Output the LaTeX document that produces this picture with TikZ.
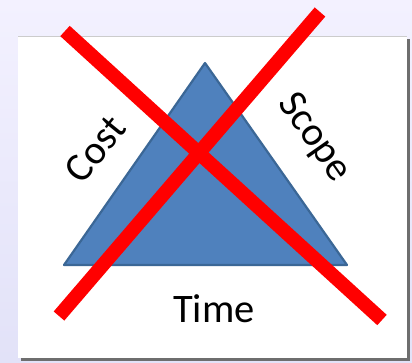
\documentclass[tikz,border=0pt]{standalone}
\usepackage{fontspec}
\setmainfont{Carlito}
\definecolor{bgtop}{HTML}{F3F1FF}
\definecolor{bgbot}{HTML}{E2E2F8}
\definecolor{triblue}{HTML}{4F81BD}
\definecolor{triedge}{HTML}{3B6796}
\definecolor{shadowgray}{HTML}{6E6E6E}
\begin{document}
\begin{tikzpicture}[x=1pt,y=-1pt,
  lbl/.style={font=\fontsize{40.5}{40.5}\selectfont, text=black, inner sep=0pt},
  cross/.style={draw=red, line width=14pt}]
\useasboundingbox (0,0) rectangle (412,362);
% background
\shade[top color=bgtop, bottom color=bgbot] (0,0) rectangle (412,362);
% box shadow and box
\fill[shadowgray] (21,39) rectangle (410,361);
\fill[gray!40] (18,35.5) rectangle (407,358);
\fill[white] (18,37) rectangle (407,358);
% triangle
\coordinate (apex) at (205,63);
\coordinate (bl) at (64,265);
\coordinate (br) at (347,265);
\filldraw[fill=triblue, draw=triedge, line width=2.2pt, line join=round] (apex) -- (br) -- (bl) -- cycle;
% labels
\node[lbl, rotate=51] (cost) at (95,149) {Cost};
\node[lbl, rotate=-55] (scope) at (314,138) {Scope};
\node[lbl] (time) at (214,309) {Time};
% red cross
\coordinate (a1) at (65,31);
\coordinate (a2) at (382,320);
\coordinate (b1) at (320,12);
\coordinate (b2) at (59,316);
\draw[cross] (a1) -- (a2);
\draw[cross] (b1) -- (b2);
\end{tikzpicture}
\end{document}
